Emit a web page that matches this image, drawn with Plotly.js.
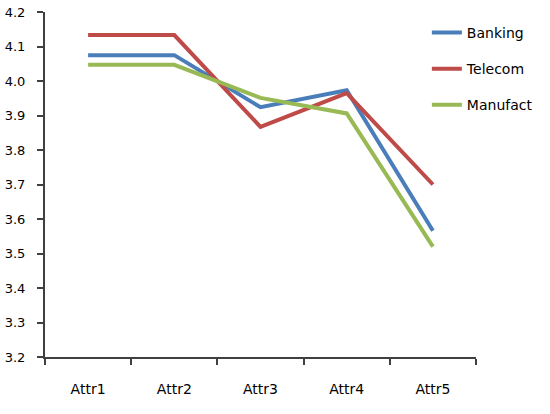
<!DOCTYPE html>
<html>
<head>
<meta charset="utf-8">
<script src="https://cdn.plot.ly/plotly-3.0.1.min.js"></script>
<style>html,body{margin:0;padding:0;background:#fff;}#chart{width:550px;height:414px;}</style>
</head>
<body>
<div id="chart"></div>
<script>
const categories = ["Attr1", "Attr2", "Attr3", "Attr4", "Attr5"];
const banking = [4.075, 4.075, 3.924, 3.973, 3.566];
const telecom = [4.133, 4.133, 3.867, 3.965, 3.700];
const manufact = [4.047, 4.047, 3.951, 3.906, 3.520];
const seriesNames = ["Banking", "Telecom", "Manufact"];
const yTicks = [3.2, 3.3, 3.4, 3.5, 3.6, 3.7, 3.8, 3.9, 4.0, 4.1, 4.2];

const colors = ["#4A7EBB", "#BE4B48", "#98B954"];
const data = [banking, telecom, manufact].map((vals, i) => ({
  type: "scatter",
  mode: "lines",
  x: categories,
  y: vals,
  name: seriesNames[i],
  legendgroup: "g" + i,
  line: {color: colors[i], width: 4}
}));

const layout = {
  width: 550,
  height: 414,
  margin: {l: 45, r: 67, t: 12, b: 57},
  paper_bgcolor: "#fff",
  plot_bgcolor: "#fff",
  font: {family: "DejaVu Sans, Verdana, sans-serif", size: 13, color: "#000"},
  showlegend: true,
  legend: {
    x: 0.886, xanchor: "left", y: 0.986, yanchor: "top",
    traceorder: "grouped", tracegroupgap: 15,
    font: {size: 14, color: "#000"},
    itemwidth: 30,
    bgcolor: "rgba(0,0,0,0)"
  },
  xaxis: {
    type: "category",
    range: [-0.5, 4.5],
    showline: true, linecolor: "#404040", linewidth: 2,
    ticks: "outside", tickson: "boundaries", ticklen: 6, tickcolor: "#404040", tickwidth: 2,
    showgrid: false, zeroline: false,
    ticklabelstandoff: 18,
    tickfont: {size: 14, color: "#000"}
  },
  yaxis: {
    range: [3.2, 4.2],
    tickvals: yTicks,
    ticktext: yTicks.map(v => v.toFixed(1)),
    showline: true, linecolor: "#404040", linewidth: 2,
    ticks: "outside", ticklen: 6, tickcolor: "#404040", tickwidth: 2,
    showgrid: false, zeroline: false,
    ticklabelstandoff: 9,
    tickfont: {size: 13, color: "#000"}
  }
};

Plotly.newPlot("chart", data, layout, {displayModeBar: false, staticPlot: true});
</script>
</body>
</html>
